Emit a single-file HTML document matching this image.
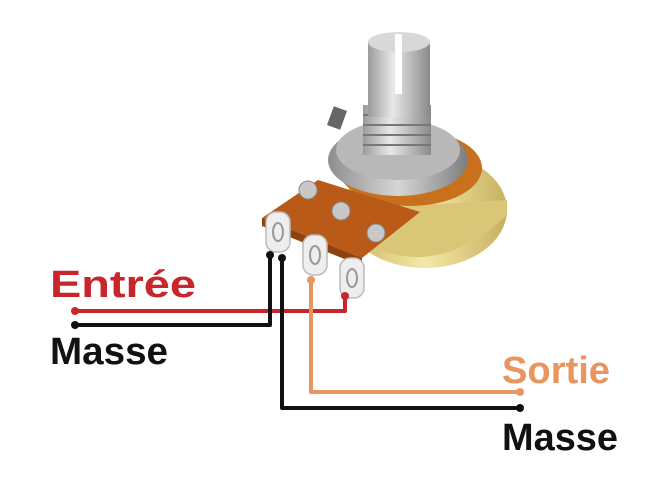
<!DOCTYPE html>
<html><head><style>
html,body{margin:0;padding:0;background:#fff;}
</style></head><body>
<svg width="664" height="484" viewBox="0 0 664 484" xmlns="http://www.w3.org/2000/svg">
<defs>
<linearGradient id="sil" x1="0" x2="1"><stop offset="0" stop-color="#9a9a9a"/><stop offset="0.4" stop-color="#e8e8e8"/><stop offset="1" stop-color="#8a8a8a"/></linearGradient>
<linearGradient id="brass" x1="0" x2="1"><stop offset="0" stop-color="#c9b45a"/><stop offset="0.5" stop-color="#f3e8a8"/><stop offset="1" stop-color="#c8b060"/></linearGradient>
<linearGradient id="nut" x1="0" x2="1"><stop offset="0" stop-color="#8e8e8e"/><stop offset="0.5" stop-color="#d6d6d6"/><stop offset="1" stop-color="#7e7e7e"/></linearGradient>
</defs>
<ellipse cx="425" cy="210" rx="82" ry="58" fill="url(#brass)"/>
<path d="M343 210 L343 228 Q425 292 507 215 L507 200 Z" fill="#d9c777"/>
<ellipse cx="410" cy="168" rx="72" ry="38" fill="#c8701c"/>
<ellipse cx="398" cy="160" rx="70" ry="36" fill="url(#nut)"/>
<ellipse cx="398" cy="150" rx="62" ry="30" fill="#b8b8b8"/>
<rect x="363" y="105" width="68" height="50" fill="url(#sil)"/>
<g stroke="#777" stroke-width="2"><line x1="363" y1="115" x2="431" y2="115"/><line x1="363" y1="125" x2="431" y2="125"/><line x1="363" y1="135" x2="431" y2="135"/><line x1="363" y1="145" x2="431" y2="145"/></g>
<rect x="368" y="42" width="62" height="75" fill="url(#sil)"/>
<ellipse cx="399" cy="42" rx="31" ry="10" fill="#d8d8d8"/>
<rect x="395" y="34" width="7" height="60" fill="#fff"/>
<rect x="330" y="108" width="14" height="20" fill="#666" transform="rotate(20 337 118)"/>
<polygon points="262,218 318,180 420,212 362,258" fill="#b95a18"/>
<polygon points="262,218 362,258 362,266 262,226" fill="#8e4210"/>
<circle cx="308" cy="190" r="9" fill="#c8c8c8" stroke="#888"/>
<circle cx="341" cy="211" r="9" fill="#c8c8c8" stroke="#888"/>
<circle cx="376" cy="233" r="9" fill="#c8c8c8" stroke="#888"/>
<g fill="#eeeeee" stroke="#bbb" stroke-width="1.5">
<rect x="266" y="212" width="24" height="40" rx="10"/>
<rect x="303" y="235" width="24" height="40" rx="10"/>
<rect x="340" y="258" width="24" height="40" rx="10"/>
</g>
<g fill="none" stroke="#999" stroke-width="2">
<ellipse cx="278" cy="232" rx="5" ry="9"/><ellipse cx="315" cy="255" rx="5" ry="9"/><ellipse cx="352" cy="278" rx="5" ry="9"/>
</g>
<g fill="none" stroke-width="4" stroke-linejoin="round">
<polyline points="75,311 345,311 345,296" stroke="#c8262b"/>
<polyline points="75,325 270,325 270,255" stroke="#111"/>
<polyline points="311,280 311,392 520,392" stroke="#e8955f"/>
<polyline points="282,258 282,408 520,408" stroke="#111"/>
</g>
<g>
<circle cx="75" cy="311" r="4" fill="#c8262b"/><circle cx="345" cy="296" r="4" fill="#c8262b"/>
<circle cx="75" cy="325" r="4" fill="#111"/><circle cx="270" cy="255" r="4" fill="#111"/>
<circle cx="311" cy="280" r="4" fill="#e8955f"/><circle cx="520" cy="392" r="4" fill="#e8955f"/>
<circle cx="282" cy="258" r="4" fill="#111"/><circle cx="520" cy="408" r="4" fill="#111"/>
</g>
<g font-family="Liberation Sans, sans-serif" font-weight="bold" font-size="38">
<text x="50" y="297" fill="#c8262b" textLength="146" lengthAdjust="spacingAndGlyphs">Entrée</text>
<text x="50" y="364" fill="#111" textLength="118" lengthAdjust="spacingAndGlyphs">Masse</text>
<text x="502" y="383" fill="#e8955f" textLength="108" lengthAdjust="spacingAndGlyphs">Sortie</text>
<text x="502" y="450" fill="#111" textLength="116" lengthAdjust="spacingAndGlyphs">Masse</text>
</g>
</svg>
</body></html>
